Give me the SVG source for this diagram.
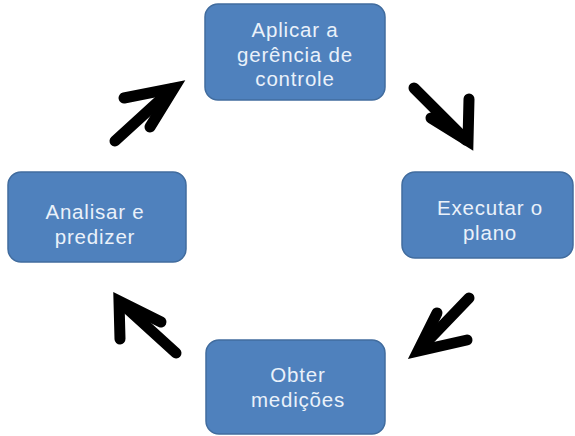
<svg xmlns="http://www.w3.org/2000/svg" width="575" height="436" viewBox="0 0 575 436">
  <style>
    .box { fill: #4f81bd; stroke: #416c9e; stroke-width: 1.5; }
    .lbl { font-family: "Liberation Sans", Arial, sans-serif; font-size: 20.5px; letter-spacing: 0.8px; fill: #eaf1fa; text-anchor: middle; }
    .arr { fill: none; stroke: #000; stroke-width: 11; stroke-linecap: round; stroke-linejoin: miter; stroke-miterlimit: 10; }
  </style>
  <rect width="575" height="436" fill="#fff"/>

  <g id="aplicar">
    <rect class="box" x="205" y="4" width="180" height="96" rx="13"/>
    <text class="lbl" x="295" y="37">Aplicar a</text>
    <text class="lbl" x="295" y="61.5">gerência de</text>
    <text class="lbl" x="295" y="86">controle</text>
  </g>

  <g id="executar">
    <rect class="box" x="402" y="172" width="171" height="86" rx="13"/>
    <text class="lbl" x="490" y="215">Executar o</text>
    <text class="lbl" x="490" y="239.5">plano</text>
  </g>

  <g id="obter">
    <rect class="box" x="206" y="340" width="179" height="94" rx="13"/>
    <text class="lbl" x="298" y="382">Obter</text>
    <text class="lbl" x="298" y="406.5">medições</text>
  </g>

  <g id="analisar">
    <rect class="box" x="8" y="172" width="178" height="90" rx="13"/>
    <text class="lbl" x="95" y="219">Analisar e</text>
    <text class="lbl" x="95" y="243.5">predizer</text>
  </g>

  <g id="connectors">
    <!-- analisar -> aplicar -->
    <path class="arr" d="M115,141 L172,89"/>
    <path class="arr" d="M124,98 L174,88 L150,127"/>
    <!-- aplicar -> executar -->
    <path class="arr" d="M414,88 L466,140"/>
    <path class="arr" d="M469,99 L468,141 L431,118"/>
    <!-- executar -> obter -->
    <path class="arr" d="M469,298 L420,349"/>
    <path class="arr" d="M437,313 L418,351 L467,340"/>
    <!-- obter -> analisar -->
    <path class="arr" d="M176,353 L121,303"/>
    <path class="arr" d="M120,339 L119,301 L161,322"/>
  </g>
</svg>
